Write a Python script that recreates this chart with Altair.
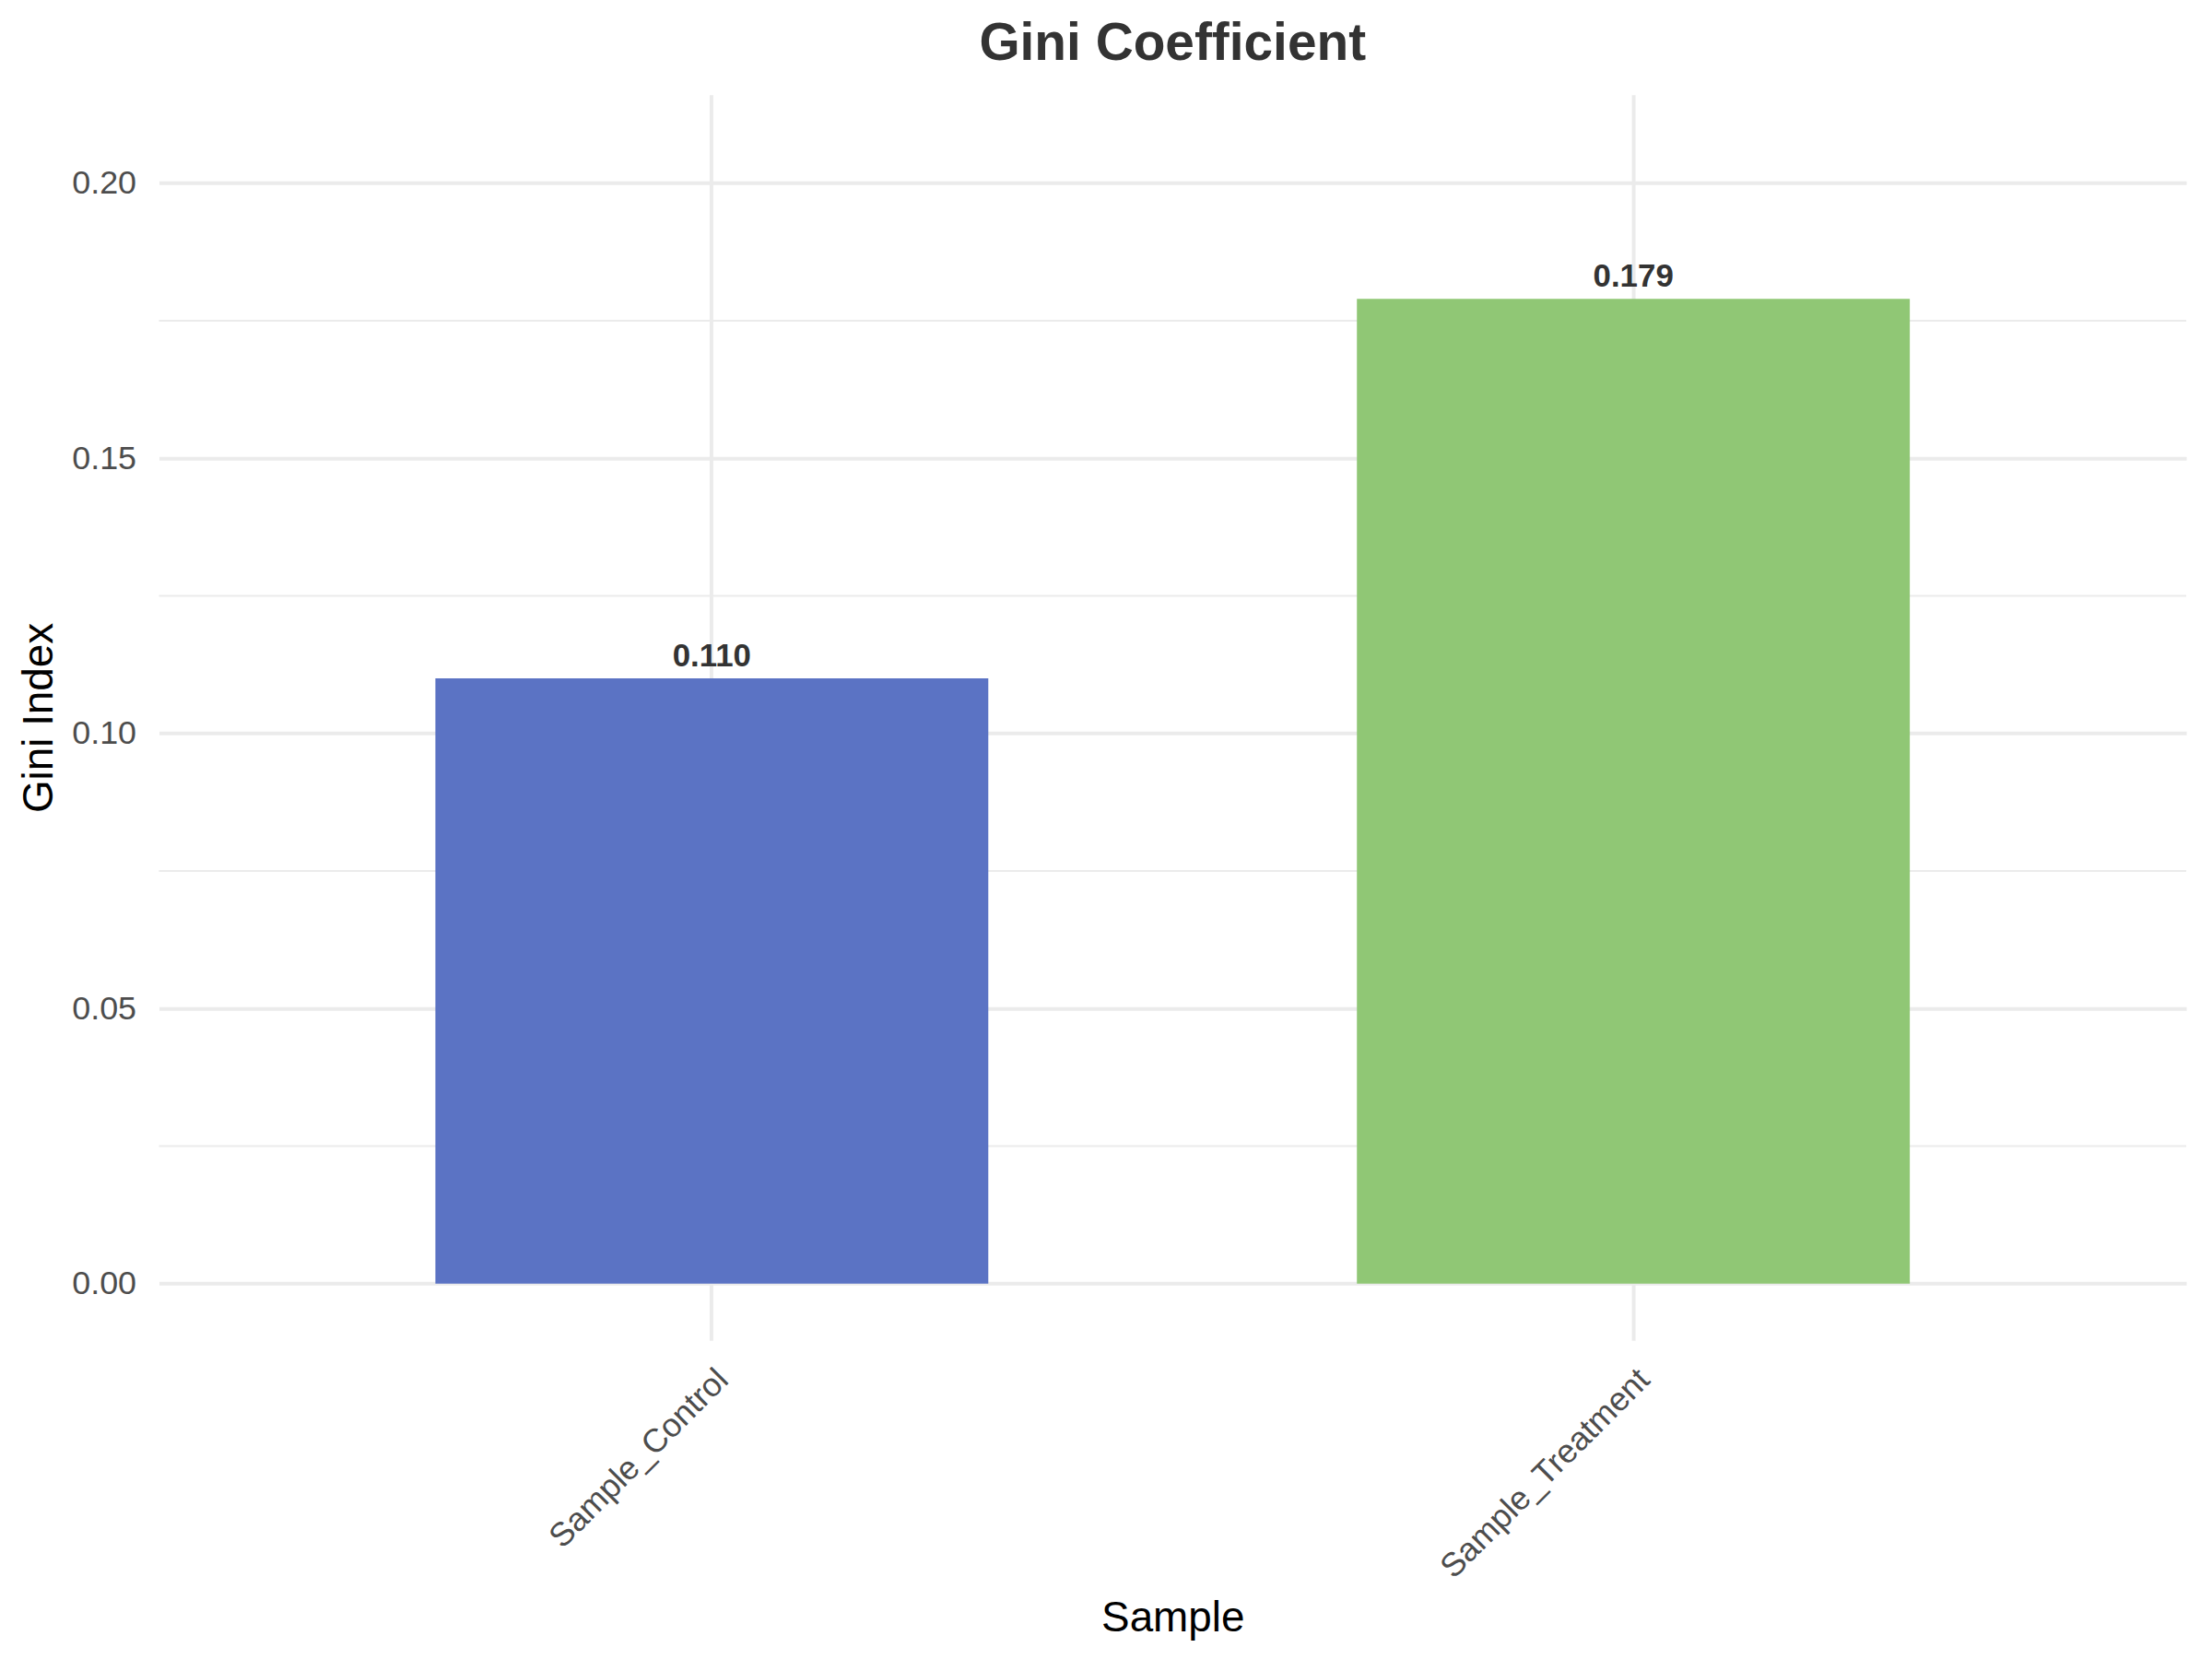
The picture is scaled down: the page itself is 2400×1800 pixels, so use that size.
import altair as alt
import pandas as pd

# ---- data ----
samples = ["Sample_Control", "Sample_Treatment"]
gini = [0.110, 0.179]
bar_labels = ["0.110", "0.179"]
bar_colors = ["#5B73C4", "#90C775"]
major_breaks = [0.0, 0.05, 0.10, 0.15, 0.20]
minor_breaks = [0.025, 0.075, 0.125, 0.175]
y_domain = [-0.0103, 0.2161]

df = pd.DataFrame({"Sample": samples, "Gini": gini, "Label": bar_labels})
minor_df = pd.DataFrame({"Gini": minor_breaks})

W, H = 2207, 1356
FONT = "Liberation Sans"
GRID = "#EBEBEB"

y_scale = alt.Scale(domain=y_domain, nice=False, zero=False)

x_axis = alt.Axis(
    title="Sample",
    grid=True, gridColor=GRID, gridWidth=4, bandPosition=0.5,
    domain=False, ticks=False,
    labelAngle=-45, labelAlign="right", labelBaseline="top",
    labelPadding=25, labelOffset=0, labelLimit=2000,
    labelFontSize=36, labelColor="#4D4D4D", labelFont=FONT,
    titleFont=FONT, titleFontSize=46, titleColor="#000000",
    titleFontWeight="normal",
    titleX=W / 2, titleY=316, titleBaseline="alphabetic", titleAlign="center",
)

y_axis = alt.Axis(
    title="Gini Index",
    values=major_breaks, format=".2f",
    grid=True, gridColor=GRID, gridWidth=4,
    domain=False, ticks=False, labelPadding=25,
    labelFontSize=36, labelColor="#4D4D4D", labelFont=FONT,
    titleFont=FONT, titleFontSize=46, titleColor="#000000",
    titleFontWeight="normal", titleAngle=-90,
    titleX=-116, titleY=H / 2, titleBaseline="alphabetic", titleAlign="center",
)

minor = alt.Chart(minor_df).mark_rule(color=GRID, strokeWidth=2).encode(
    y=alt.Y("Gini:Q", scale=y_scale, axis=y_axis)
)

bars = alt.Chart(df).mark_bar().encode(
    x=alt.X("Sample:N", sort=samples,
            scale=alt.Scale(paddingInner=0.4, paddingOuter=0.3), axis=x_axis),
    y=alt.Y("Gini:Q", scale=y_scale, axis=y_axis),
    y2=alt.datum(0),
    color=alt.Color("Sample:N", scale=alt.Scale(domain=samples, range=bar_colors), legend=None),
)

texts = alt.Chart(df).mark_text(
    dy=-13, baseline="alphabetic", fontSize=35, fontWeight="bold",
    color="#333333", font=FONT,
).encode(
    x=alt.X("Sample:N", sort=samples, axis=x_axis),
    y=alt.Y("Gini:Q", scale=y_scale, axis=y_axis),
    text="Label:N",
)

chart = (
    alt.layer(minor, bars, texts)
    .properties(
        width=W, height=H,
        title=alt.TitleParams(
            "Gini Coefficient", fontSize=57, fontWeight="bold",
            color="#333333", font=FONT, anchor="middle", offset=26,
        ),
        autosize=alt.AutoSizeParams(type="none"),
        padding={"left": 165, "top": 92, "right": 20, "bottom": 344},
        background="white",
    )
    .configure_view(stroke=None)
)

chart.save("out.html", embed_options={"renderer": "svg", "actions": False})
